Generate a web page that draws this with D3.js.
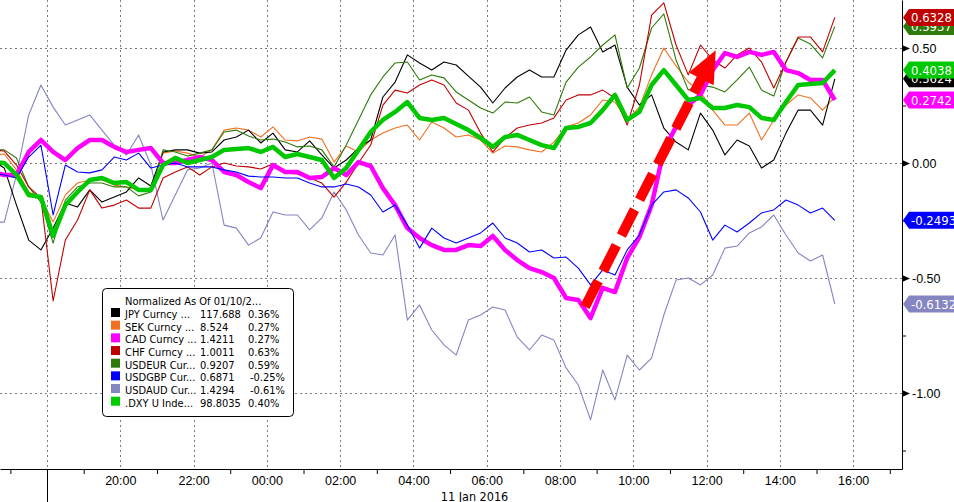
<!DOCTYPE html>
<html>
<head>
<meta charset="utf-8">
<script src="https://cdn.jsdelivr.net/npm/d3@7"></script>
<style>
html,body{margin:0;padding:0;background:#fff;overflow:hidden}
svg{display:block;font-family:'DejaVu Sans Condensed','DejaVu Sans',sans-serif}
</style>
</head>
<body>
<div id="chart"></div>
<script>
// normalized moves since 10 Jan close, 20-minute samples from 16:30
const startTime = new Date(2016,0,10,16,30);
const stepMin = 20;

const jpy = [0.013,-0.022,-0.183,-0.335,-0.378,-0.283,-0.174,-0.191,-0.117,-0.170,
  -0.148,-0.126,-0.065,-0.100,0.048,0.057,0.057,0.043,0.048,0.100,
  0.113,0.143,0.087,0.130,0.057,0.048,0.096,0.035,-0.022,0.013,
  0.065,0.100,0.287,0.352,0.470,0.435,0.404,0.439,0.426,0.378,
  0.330,0.261,0.326,0.374,0.404,0.374,0.374,0.491,0.557,0.591,
  0.483,0.513,0.330,0.252,0.296,0.152,0.091,0.057,0.217,0.143,
  0.035,0.100,0.074,-0.022,0.013,0.130,0.230,0.230,0.165,0.366];
const sek = [0.035,0.039,-0.030,-0.126,-0.152,-0.257,-0.139,-0.087,-0.074,-0.074,
  -0.096,-0.104,-0.117,-0.109,0.043,0.052,0.043,0.026,0.057,0.143,
  0.152,0.143,0.113,0.157,0.100,0.096,0.113,0.104,0.004,0.074,
  0.048,0.100,0.130,0.152,0.165,0.100,0.178,0.152,0.113,0.122,
  0.100,0.043,0.074,0.070,0.057,0.048,0.091,0.157,0.174,0.209,
  0.274,0.265,0.187,0.243,0.383,0.500,0.422,0.352,0.309,0.230,
  0.165,0.165,0.217,0.100,0.187,0.252,0.296,0.283,0.230,0.287];
const cad = [-0.039,-0.052,-0.052,0.048,0.100,0.048,0.013,0.065,0.100,0.100,
  0.070,0.048,0.057,0.065,0,0,0.013,0.026,0.013,-0.039,
  -0.052,-0.083,-0.109,-0.009,-0.039,-0.039,-0.065,-0.061,-0.022,-0.052,
  0.004,-0.013,-0.109,-0.183,-0.283,-0.326,-0.357,-0.378,-0.378,-0.357,
  -0.361,-0.317,-0.378,-0.422,-0.457,-0.474,-0.500,-0.587,-0.596,-0.674,
  -0.543,-0.561,-0.413,-0.322,-0.183,0.057,0.157,0.252,0.296,0.404,
  0.478,0.461,0.483,0.470,0.483,0.404,0.391,0.361,0.361,0.274];
const chf = [0.057,0.052,-0.009,-0.104,-0.152,-0.600,-0.335,-0.248,-0.117,-0.196,
  -0.183,-0.161,-0.196,-0.196,-0.065,-0.039,-0.017,-0.052,-0.017,0,
  -0.013,-0.017,-0.026,-0.004,-0.043,-0.048,-0.065,-0.087,-0.148,-0.083,
  0,0.078,0.252,0.317,0.304,0.339,0.361,0.339,0.261,0.230,
  0.130,0.048,0.109,0.152,0.165,0.174,0.196,0.274,0.296,0.296,
  0.317,0.283,0.165,0.339,0.643,0.696,0.513,0.383,0.513,0.448,
  0.413,0.470,0.500,0.439,0.326,0.439,0.548,0.548,0.483,0.633];
const usdeur = [0.057,0.057,0.022,-0.104,-0.170,-0.348,-0.161,-0.104,-0.087,-0.087,
  -0.104,-0.104,-0.143,-0.126,0.057,0.048,0.030,0.043,0.057,0.135,
  0.143,0.117,0.100,0.104,0.091,0.070,0.074,0.057,-0.017,0.078,
  0.187,0.296,0.374,0.435,0.439,0.361,0.383,0.370,0.309,0.274,
  0.239,0.217,0.265,0.261,0.287,0.222,0.209,0.352,0.417,0.461,
  0.513,0.557,0.326,0.413,0.587,0.648,0.448,0.317,0.339,0.330,
  0.309,0.361,0.417,0.317,0.291,0.439,0.543,0.517,0.457,0.594];
const usdgbp = [-0.043,-0.052,-0.065,0.026,0.078,-0.226,-0.009,-0.039,-0.043,-0.030,
  0.026,0.013,0.043,-0.022,-0.009,0,-0.017,-0.017,-0.017,-0.030,
  -0.039,-0.057,-0.061,-0.061,-0.065,-0.065,-0.087,-0.104,-0.104,-0.091,
  -0.104,-0.139,-0.213,-0.183,-0.270,-0.370,-0.283,-0.326,-0.348,-0.326,
  -0.304,-0.261,-0.326,-0.348,-0.387,-0.378,-0.413,-0.409,-0.457,-0.530,
  -0.465,-0.487,-0.378,-0.313,-0.183,-0.126,-0.117,-0.152,-0.213,-0.335,
  -0.270,-0.300,-0.261,-0.217,-0.204,-0.161,-0.183,-0.217,-0.196,-0.249];
const usdaud = [-0.257,-0.257,-0.052,0.209,0.339,0.243,0.165,0.187,0.209,0.143,
  0.078,0.035,0.122,-0.009,-0.248,-0.139,-0.030,-0.022,0,-0.270,
  -0.283,-0.357,-0.326,-0.213,-0.226,-0.226,-0.291,-0.239,-0.126,-0.204,
  -0.313,-0.391,-0.400,-0.313,-0.683,-0.617,-0.726,-0.791,-0.835,-0.683,
  -0.661,-0.626,-0.639,-0.757,-0.813,-0.748,-0.770,-0.891,-0.965,-1.117,
  -0.900,-1.030,-0.835,-0.900,-0.848,-0.661,-0.509,-0.500,-0.530,-0.487,
  -0.370,-0.361,-0.304,-0.278,-0.226,-0.313,-0.391,-0.426,-0.400,-0.613];
const dxy = [0.004,0,-0.052,-0.139,-0.148,-0.317,-0.183,-0.126,-0.074,-0.065,
  -0.087,-0.083,-0.117,-0.117,-0.009,0.022,0,0.013,0.026,0.057,
  0.061,0.065,0.048,0.070,0.026,0.039,0.026,0.013,-0.065,-0.022,
  0.057,0.135,0.187,0.222,0.265,0.196,0.187,0.196,0.170,0.143,
  0.109,0.070,0.113,0.122,0.100,0.078,0.065,0.152,0.157,0.174,
  0.230,0.296,0.187,0.222,0.339,0.404,0.339,0.274,0.283,0.239,
  0.239,0.252,0.243,0.196,0.187,0.265,0.339,0.343,0.348,0.404];

const legendTitle = 'Normalized As Of 01/10/2...';
const legendNames = ['JPY Curncy ...','SEK Curncy ...','CAD Curncy ...','CHF Curncy ...','USDEUR Cur...','USDGBP Cur...','USDAUD Cur...','.DXY U Inde...'];
const legendLast = ['117.688','8.524','1.4211','1.0011','0.9207','0.6871','1.4294','98.8035'];
const legendPct = ['0.36%','0.27%','0.27%','0.63%','0.59%','-0.25%','-0.61%','0.40%'];
const tagLabels = ['0.5624','','0.2742','0.6328','0.5937','-0.2493','-0.6132','0.4038'];

const yMajor = [0.5, 0, -0.5, -1];
const yMinor = [0.25, -0.25, -0.75, -1.25];
const dateLabel = '11 Jan 2016';

// the red "rebound" arrow, in time/value terms
const arrowFrom = {t: new Date(2016,0,11,8,41), v: -0.625};
const arrowTo = {t: new Date(2016,0,11,12,15), v: 0.49};

const series = [jpy, sek, cad, chf, usdeur, usdgbp, usdaud, dxy];
const colors = ['#000000','#f07020','#ff00ff','#c00000','#2f7a0a','#0000ff','#8585c2','#00c800'];
const legendColors = ['#000000','#f07020','#ff00ff','#c00000','#2f7a0a','#0000ff','#8585c2','#00cc00'];
const widths = [1.1,1.1,4.5,1.1,1.1,1.1,1.1,4.5];

const W=954, H=502, PW=902, PH=469;
const svg = d3.select('#chart').append('svg').attr('width',W).attr('height',H);

const x = d3.scaleTime()
  .domain([new Date(2016,0,10,16,43), new Date(2016,0,11,17,20)])
  .range([0,PW]);
const y = d3.scaleLinear().domain([-1.3304,0.7087]).range([PH,0]);
const times = d3.range(jpy.length).map(i=>d3.timeMinute.offset(startTime,i*stepMin));

// grid
const evenHours = d3.timeHour.every(2).range(new Date(2016,0,10,18), new Date(2016,0,11,17));
const oddHours = d3.timeHour.range(new Date(2016,0,10,17), new Date(2016,0,11,18)).filter(d=>d.getHours()%2===1);
const grid = svg.append('g').attr('stroke','#7a7a7a').attr('stroke-dasharray','2,3').attr('stroke-width',1);
grid.selectAll('.gv').data(evenHours).join('line')
  .attr('x1',d=>Math.round(x(d))+0.5).attr('x2',d=>Math.round(x(d))+0.5)
  .attr('y1',0).attr('y2',PH);
grid.selectAll('.gh').data(yMajor).join('line')
  .attr('x1',0).attr('x2',PW)
  .attr('y1',d=>Math.round(y(d))+0.5).attr('y2',d=>Math.round(y(d))+0.5);

// lines
const plot = svg.append('g').attr('clip-path','url(#clip)');
svg.append('clipPath').attr('id','clip').append('rect').attr('width',PW).attr('height',PH);
const line = d3.line().x((d,i)=>x(times[i])).y(d=>y(d));
const drawOrder = [6,1,0,4,3,2,5,7];
drawOrder.forEach(k=>{
  plot.append('path').datum(series[k])
    .attr('d',line).attr('fill','none')
    .attr('stroke',colors[k]).attr('stroke-width',widths[k])
    .attr('stroke-linejoin','round');
});

// arrow annotation
const p0=[x(arrowFrom.t),y(arrowFrom.v)], p1=[x(arrowTo.t),y(arrowTo.v)];
const len=Math.hypot(p1[0]-p0[0],p1[1]-p0[1]);
const ux=(p1[0]-p0[0])/len, uy=(p1[1]-p0[1])/len;
const headL=32, headW=14;
const base=[p1[0]-ux*headL, p1[1]-uy*headL];
plot.append('line')
  .attr('x1',p0[0]).attr('y1',p0[1]).attr('x2',base[0]+ux*2).attr('y2',base[1]+uy*2)
  .attr('stroke','#ff0000').attr('stroke-width',10).attr('stroke-dasharray','29,11');
plot.append('path')
  .attr('d',`M${p1[0]},${p1[1]}L${base[0]-uy*headW},${base[1]+ux*headW}L${base[0]+uy*headW},${base[1]-ux*headW}Z`)
  .attr('fill','#ff0000');

// bottom axis
const xTicks = svg.append('g').attr('transform',`translate(0,${PH})`)
  .call(d3.axisBottom(x).tickValues(oddHours).tickSize(5).tickSizeOuter(0).tickFormat(''));
xTicks.select('.domain').attr('stroke','#000');
xTicks.selectAll('.tick line').attr('stroke','#000');
const xLabels = svg.append('g').attr('transform',`translate(0,${PH})`)
  .call(d3.axisBottom(x).tickValues(evenHours.slice(1)).tickSize(0).tickPadding(7).tickFormat(d3.timeFormat('%H:%M')));
xLabels.select('.domain').remove();
xLabels.selectAll('text').attr('font-family',null).attr('font-size',12.5).attr('fill','#000');
svg.append('line').attr('x1',Math.round(x(evenHours[0]))+0.5).attr('x2',Math.round(x(evenHours[0]))+0.5)
  .attr('y1',PH).attr('y2',H).attr('stroke','#000');
svg.append('text').attr('x',x(new Date(2016,0,11,5,40))).attr('y',500.5)
  .attr('text-anchor','middle').attr('font-size',12.5).text(dateLabel);

// right axis
const yMinorAx = svg.append('g').attr('transform',`translate(${PW},0)`)
  .call(d3.axisRight(y).tickValues(yMinor).tickSize(4).tickSizeOuter(0).tickFormat(''));
yMinorAx.select('.domain').attr('stroke','#000');
const yAx = svg.append('g').attr('transform',`translate(${PW},0)`)
  .call(d3.axisRight(y).tickValues(yMajor).tickSize(0).tickPadding(10).tickFormat(d=>d.toFixed(2)));
yAx.select('.domain').remove();
yAx.selectAll('text').attr('font-family',null).attr('font-size',12.5).attr('fill','#000');
yAx.selectAll('.tick').append('path').attr('d','M0,-3.5L8,0L0,3.5Z').attr('fill','#000');

// last-value tags
const tags = svg.append('g');
[1,0,4,3,7,2,5,6].forEach(k=>{
  if(!tagLabels[k]) return;
  const v = series[k][series[k].length-1], yy = y(v);
  tags.append('path')
    .attr('d',`M${PW+1},${yy}L${PW+7},${yy-8.5}L${W+5},${yy-8.5}L${W+5},${yy+8.5}L${PW+7},${yy+8.5}Z`)
    .attr('fill',colors[k]);
  tags.append('text').attr('x',PW+9).attr('y',yy+4.6)
    .attr('fill','#fff').attr('font-size',13).text(tagLabels[k]);
});

// legend
const lg = svg.append('g').attr('transform','translate(102,288)');
lg.append('rect').attr('x',0.5).attr('y',0.5).attr('width',191).attr('height',128).attr('rx',4)
  .attr('fill','#fff').attr('stroke','#000');
lg.append('text').attr('x',23).attr('y',17).attr('font-size',11).text(legendTitle);
const rowY = d3.scaleLinear().domain([0,7]).range([30,118.7]);
legendNames.forEach((n,i)=>{
  const r = lg.append('g').attr('transform',`translate(0,${rowY(i)})`);
  r.append('rect').attr('x',9).attr('y',-10).attr('width',9).attr('height',9).attr('fill',legendColors[i]);
  r.append('text').attr('x',23).attr('font-size',11).text(n);
  r.append('text').attr('x',98).attr('font-size',11).text(legendLast[i]);
  r.append('text').attr('x',legendPct[i][0]==='-'?148:146).attr('font-size',11).text(legendPct[i]);
});
</script>
</body>
</html>
